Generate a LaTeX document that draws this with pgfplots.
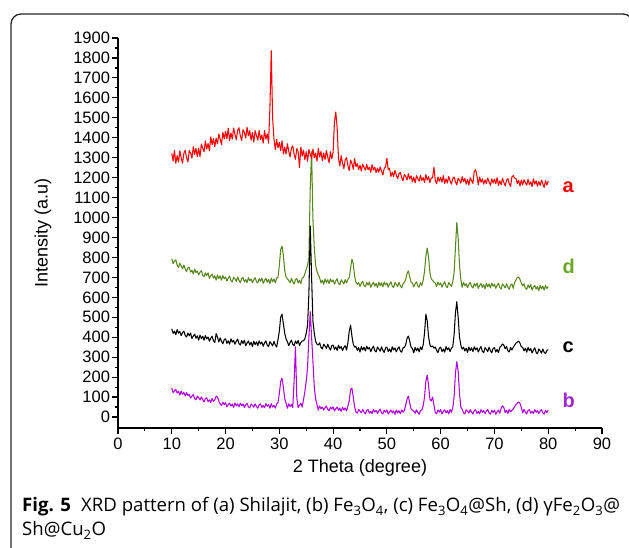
\documentclass[border=0pt]{standalone}
\usepackage{fontspec}
\setmainfont{Liberation Sans}
\newfontfamily\capfont{Open Sans}
\usepackage{pgfplots}
\pgfplotsset{compat=1.18}
\usepackage{pgfplotstable}
\definecolor{cA}{RGB}{255,0,0}
\definecolor{cD}{RGB}{88,135,30}
\definecolor{cDl}{RGB}{108,168,40}
\definecolor{cB}{RGB}{175,0,225}
\definecolor{cBl}{RGB}{160,40,210}
\pgfplotstableread{
x a d c b
10.00 1322 794 442 145
10.25 1283 769 419 122
10.50 1336 781 430 132
10.75 1272 788 413 138
11.00 1310 761 438 120
11.25 1278 750 420 129
11.50 1334 771 429 110
11.75 1299 758 408 130
12.00 1273 743 423 114
12.25 1322 762 431 123
12.50 1337 742 409 106
12.75 1299 729 401 122
13.00 1279 748 421 108
13.25 1336 750 407 114
13.50 1323 726 421 95
13.75 1298 736 393 105
14.00 1355 717 406 112
14.25 1316 742 415 93
14.50 1347 724 395 86
14.75 1305 732 407 105
15.00 1348 712 385 96
15.25 1305 726 411 86
15.50 1368 734 393 101
15.75 1347 711 405 87
16.00 1330 703 385 76
16.25 1384 723 408 93
16.50 1343 709 392 96
16.75 1371 723 401 77
17.00 1335 695 380 86
17.25 1404 708 395 73
17.50 1365 716 405 93
17.75 1396 696 382 79
18.00 1355 708 374 86
18.25 1398 686 418 105
18.50 1370 712 400 100
18.75 1419 694 376 80
19.00 1392 707 397 65
19.25 1366 686 379 58
19.50 1427 709 367 74
19.75 1394 693 388 62
20.00 1432 702 392 72
20.25 1394 681 369 51
20.50 1448 696 382 62
20.75 1385 707 365 70
21.00 1424 684 392 55
21.25 1393 677 375 65
21.50 1449 701 384 48
21.75 1416 692 365 70
22.00 1390 680 380 56
22.25 1437 702 390 66
22.50 1450 685 368 51
22.75 1409 673 361 70
23.00 1386 695 383 57
23.25 1441 699 369 65
23.50 1426 677 385 48
23.75 1398 689 357 61
24.00 1453 673 371 69
24.25 1409 699 381 51
24.50 1435 683 361 46
24.75 1388 692 375 65
25.00 1426 673 353 58
25.25 1378 689 380 49
25.50 1436 699 363 66
25.75 1410 678 377 53
26.00 1388 672 358 44
26.25 1437 694 382 62
26.50 1391 681 366 66
26.75 1414 697 376 48
27.00 1373 670 355 58
27.25 1437 685 371 46
27.50 1393 695 382 67
27.75 1419 676 360 54
28.00 1373 690 353 62
28.25 1550 669 378 44
28.50 1836 696 368 67
28.75 1500 678 357 50
29.00 1395 692 379 58
29.25 1341 673 362 45
29.50 1392 697 351 65
29.75 1349 700 388 72
30.00 1377 760 430 118
30.25 1335 840 500 178
30.50 1385 857 516 195
30.75 1318 810 468 150
31.00 1353 735 420 92
31.25 1318 702 392 70
31.50 1370 693 377 44
31.75 1333 684 358 66
32.00 1303 673 374 52
32.25 1348 695 385 63
32.50 1359 678 364 48
32.75 1317 667 358 180
33.00 1292 689 381 352
33.25 1346 694 368 95
33.50 1329 672 384 47
33.75 1250 685 358 60
34.00 1353 669 373 69
34.25 1309 696 382 50
34.50 1337 700 382 88
34.75 1290 718 392 128
35.00 1330 740 420 180
35.25 1282 762 460 250
35.50 1341 800 620 400
35.75 1316 1150 957 528
36.00 1295 1330 700 400
36.25 1344 990 480 280
36.50 1299 850 420 150
36.75 1323 760 380 92
37.00 1283 730 365 62
37.25 1347 712 361 35
37.50 1303 698 372 55
37.75 1331 672 349 42
38.00 1285 686 341 50
38.25 1323 665 365 35
38.50 1291 692 356 47
38.75 1336 674 344 55
39.00 1304 688 365 38
39.25 1274 669 348 32
39.50 1330 693 336 50
39.75 1294 677 357 40
40.00 1327 687 361 51
40.25 1480 666 339 30
40.50 1529 682 351 42
40.75 1450 693 334 50
41.00 1296 670 360 34
41.25 1259 663 344 45
41.50 1310 688 353 28
41.75 1273 679 333 49
42.00 1245 667 349 35
42.25 1290 689 358 46
42.50 1301 672 336 30
42.75 1260 690 372 55
43.00 1235 700 430 82
43.25 1288 745 461 138
43.50 1271 792 405 145
43.75 1242 768 365 100
44.00 1296 705 350 50
44.25 1255 675 353 25
44.50 1270 665 334 19
44.75 1240 674 348 38
45.00 1262 654 326 30
45.25 1233 670 353 21
45.50 1268 680 336 38
45.75 1251 659 350 25
46.00 1238 653 331 16
46.25 1267 675 355 34
46.50 1239 661 340 37
46.75 1252 677 349 19
47.00 1227 650 328 29
47.25 1265 665 344 17
47.50 1238 675 355 38
47.75 1253 656 333 25
48.00 1225 670 326 33
48.25 1247 649 351 18
48.50 1227 676 341 31
48.75 1253 659 330 39
49.00 1233 673 352 21
49.25 1213 653 335 16
49.50 1246 677 324 34
49.75 1253 662 346 24
50.00 1297 672 351 36
50.25 1241 651 328 15
50.50 1246 667 341 27
50.75 1206 678 325 35
51.00 1227 656 352 20
51.25 1205 649 336 31
51.50 1236 674 346 13
51.75 1213 665 327 35
52.00 1195 654 342 21
52.25 1220 675 352 32
52.50 1226 658 331 17
52.75 1200 647 325 36
53.00 1184 669 347 24
53.25 1216 674 348 33
53.50 1206 690 362 60
53.75 1188 720 395 90
54.00 1220 733 406 105
54.25 1193 702 380 70
54.50 1209 675 350 40
54.75 1179 671 343 35
55.00 1202 652 322 28
55.25 1174 668 349 19
55.50 1210 678 332 36
55.75 1195 657 346 23
56.00 1182 651 327 14
56.25 1212 673 351 32
56.50 1185 660 337 36
56.75 1200 685 362 56
57.00 1176 730 420 100
57.25 1215 805 516 180
57.50 1188 847 482 210
57.75 1205 802 402 160
58.00 1175 725 362 90
58.25 1198 692 352 80
58.50 1199 685 356 100
58.75 1252 676 345 60
59.00 1187 672 351 22
59.25 1169 653 334 17
59.50 1203 677 323 35
59.75 1182 662 345 25
60.00 1202 672 350 37
60.25 1178 651 328 16
60.50 1210 667 341 28
60.75 1171 678 325 36
61.00 1194 656 353 21
61.25 1173 649 337 32
61.50 1206 674 347 16
61.75 1185 665 328 38
62.00 1167 655 345 24
62.25 1195 680 352 46
62.50 1203 722 412 100
62.75 1179 850 522 220
63.00 1164 975 578 277
63.25 1197 900 500 230
63.50 1188 762 402 120
63.75 1172 690 360 50
64.00 1205 650 340 39
64.25 1179 675 350 21
64.50 1196 659 331 16
64.75 1167 668 345 36
65.00 1191 649 324 29
65.25 1163 665 351 20
65.50 1199 675 333 37
65.75 1184 654 347 24
66.00 1171 647 328 15
66.25 1231 669 352 33
66.50 1240 656 337 36
66.75 1208 672 347 18
67.00 1164 645 326 28
67.25 1203 660 342 16
67.50 1177 669 353 37
67.75 1194 650 330 24
68.00 1167 664 323 32
68.25 1189 643 348 17
68.50 1170 670 339 30
68.75 1198 653 328 38
69.00 1179 667 350 20
69.25 1161 647 333 15
69.50 1194 671 322 33
69.75 1173 656 344 23
70.00 1193 666 348 35
70.25 1169 645 326 14
70.50 1200 661 339 26
70.75 1161 671 323 34
71.00 1184 649 350 19
71.25 1164 642 356 45
71.50 1197 667 366 56
71.75 1175 658 360 48
72.00 1159 647 342 22
72.25 1187 668 353 33
72.50 1195 651 332 18
72.75 1170 640 326 38
73.00 1156 662 349 26
73.25 1204 667 336 34
73.50 1210 645 350 40
73.75 1198 675 360 52
74.00 1196 686 370 62
74.25 1170 700 376 70
74.50 1187 701 380 75
74.75 1158 690 370 68
75.00 1188 672 352 48
75.25 1164 658 349 21
75.50 1190 668 332 38
75.75 1174 646 345 25
76.00 1162 640 325 15
76.25 1192 662 349 33
76.50 1165 648 333 37
76.75 1179 664 343 19
77.00 1155 636 321 29
77.25 1194 651 336 17
77.50 1168 660 347 37
77.75 1184 641 324 24
78.00 1157 654 317 32
78.25 1180 633 341 17
78.50 1161 660 332 30
78.75 1188 642 320 37
79.00 1169 656 341 20
79.25 1151 636 324 15
79.50 1185 660 318 33
79.75 1163 644 334 23
80.00 1183 654 338 34
}\xrd
\begin{document}
\begin{tikzpicture}[x=1pt,y=1pt]
\useasboundingbox (0,0) rectangle (629,548);
\draw[line width=1.3pt, rounded corners=10pt, black!85] (11,-20) -- (11,534) -- (633,534) -- (633,-20);
\begin{axis}[
  at={(118pt,120pt)}, anchor=south west,
  scale only axis, width=484pt, height=390pt,
  xmin=0, xmax=90, ymin=-55, ymax=1900,
  axis lines=left, axis line style={-, line width=1.3pt},
  tick align=outside,
  xtick={0,10,...,90}, ytick={0,100,...,1900},
  minor x tick num=1, minor y tick num=1,
  major tick length=6pt, minor tick length=3.5pt,
  every tick/.style={line width=1.2pt, black},
  tick label style={font=\fontsize{16.5}{19}\selectfont},
  yticklabel style={xshift=1.5pt},
  /pgf/number format/1000 sep={},
  /pgf/number format/assume math mode=true,
  xlabel={2 Theta (degree)}, ylabel={Intensity (a.u)},
  label style={font=\fontsize{18}{21}\selectfont},
  xlabel style={at={(axis description cs:0.5,-0.1026)}, anchor=center},
  ylabel style={at={(axis description cs:-0.155,0.5)}, anchor=center},
  no markers, clip=false,
  every axis plot/.append style={line width=1.05pt, line join=round},
]
\addplot[cD] table[x=x,y=d]{\xrd};
\addplot[black] table[x=x,y=c]{\xrd};
\addplot[cB] table[x=x,y=b]{\xrd};
\addplot[cA] table[x=x,y=a]{\xrd};
\node[font=\bfseries\fontsize{20}{24}\selectfont, text=cA] at (axis cs:83.7,1153) {a};
\node[font=\bfseries\fontsize{20}{24}\selectfont, text=cDl] at (axis cs:83.8,757) {d};
\node[font=\bfseries\fontsize{20}{24}\selectfont, text=black] at (axis cs:83.7,351) {c};
\node[font=\bfseries\fontsize{20}{24}\selectfont, text=cBl] at (axis cs:83.8,85) {b};
\end{axis}
\node[anchor=base west, inner sep=0pt, font=\capfont\fontsize{18.6}{22}\selectfont] at (22,36) {\textbf{Fig. 5}\hspace{0.55em}XRD pattern of (a) Shilajit, (b) Fe\textsubscript{3}O\textsubscript{4}, (c) Fe\textsubscript{3}O\textsubscript{4}@Sh, (d) γFe\textsubscript{2}O\textsubscript{3}@};
\node[anchor=base west, inner sep=0pt, font=\capfont\fontsize{18.6}{22}\selectfont] at (22,12) {Sh@Cu\textsubscript{2}O};
\end{tikzpicture}
\end{document}
